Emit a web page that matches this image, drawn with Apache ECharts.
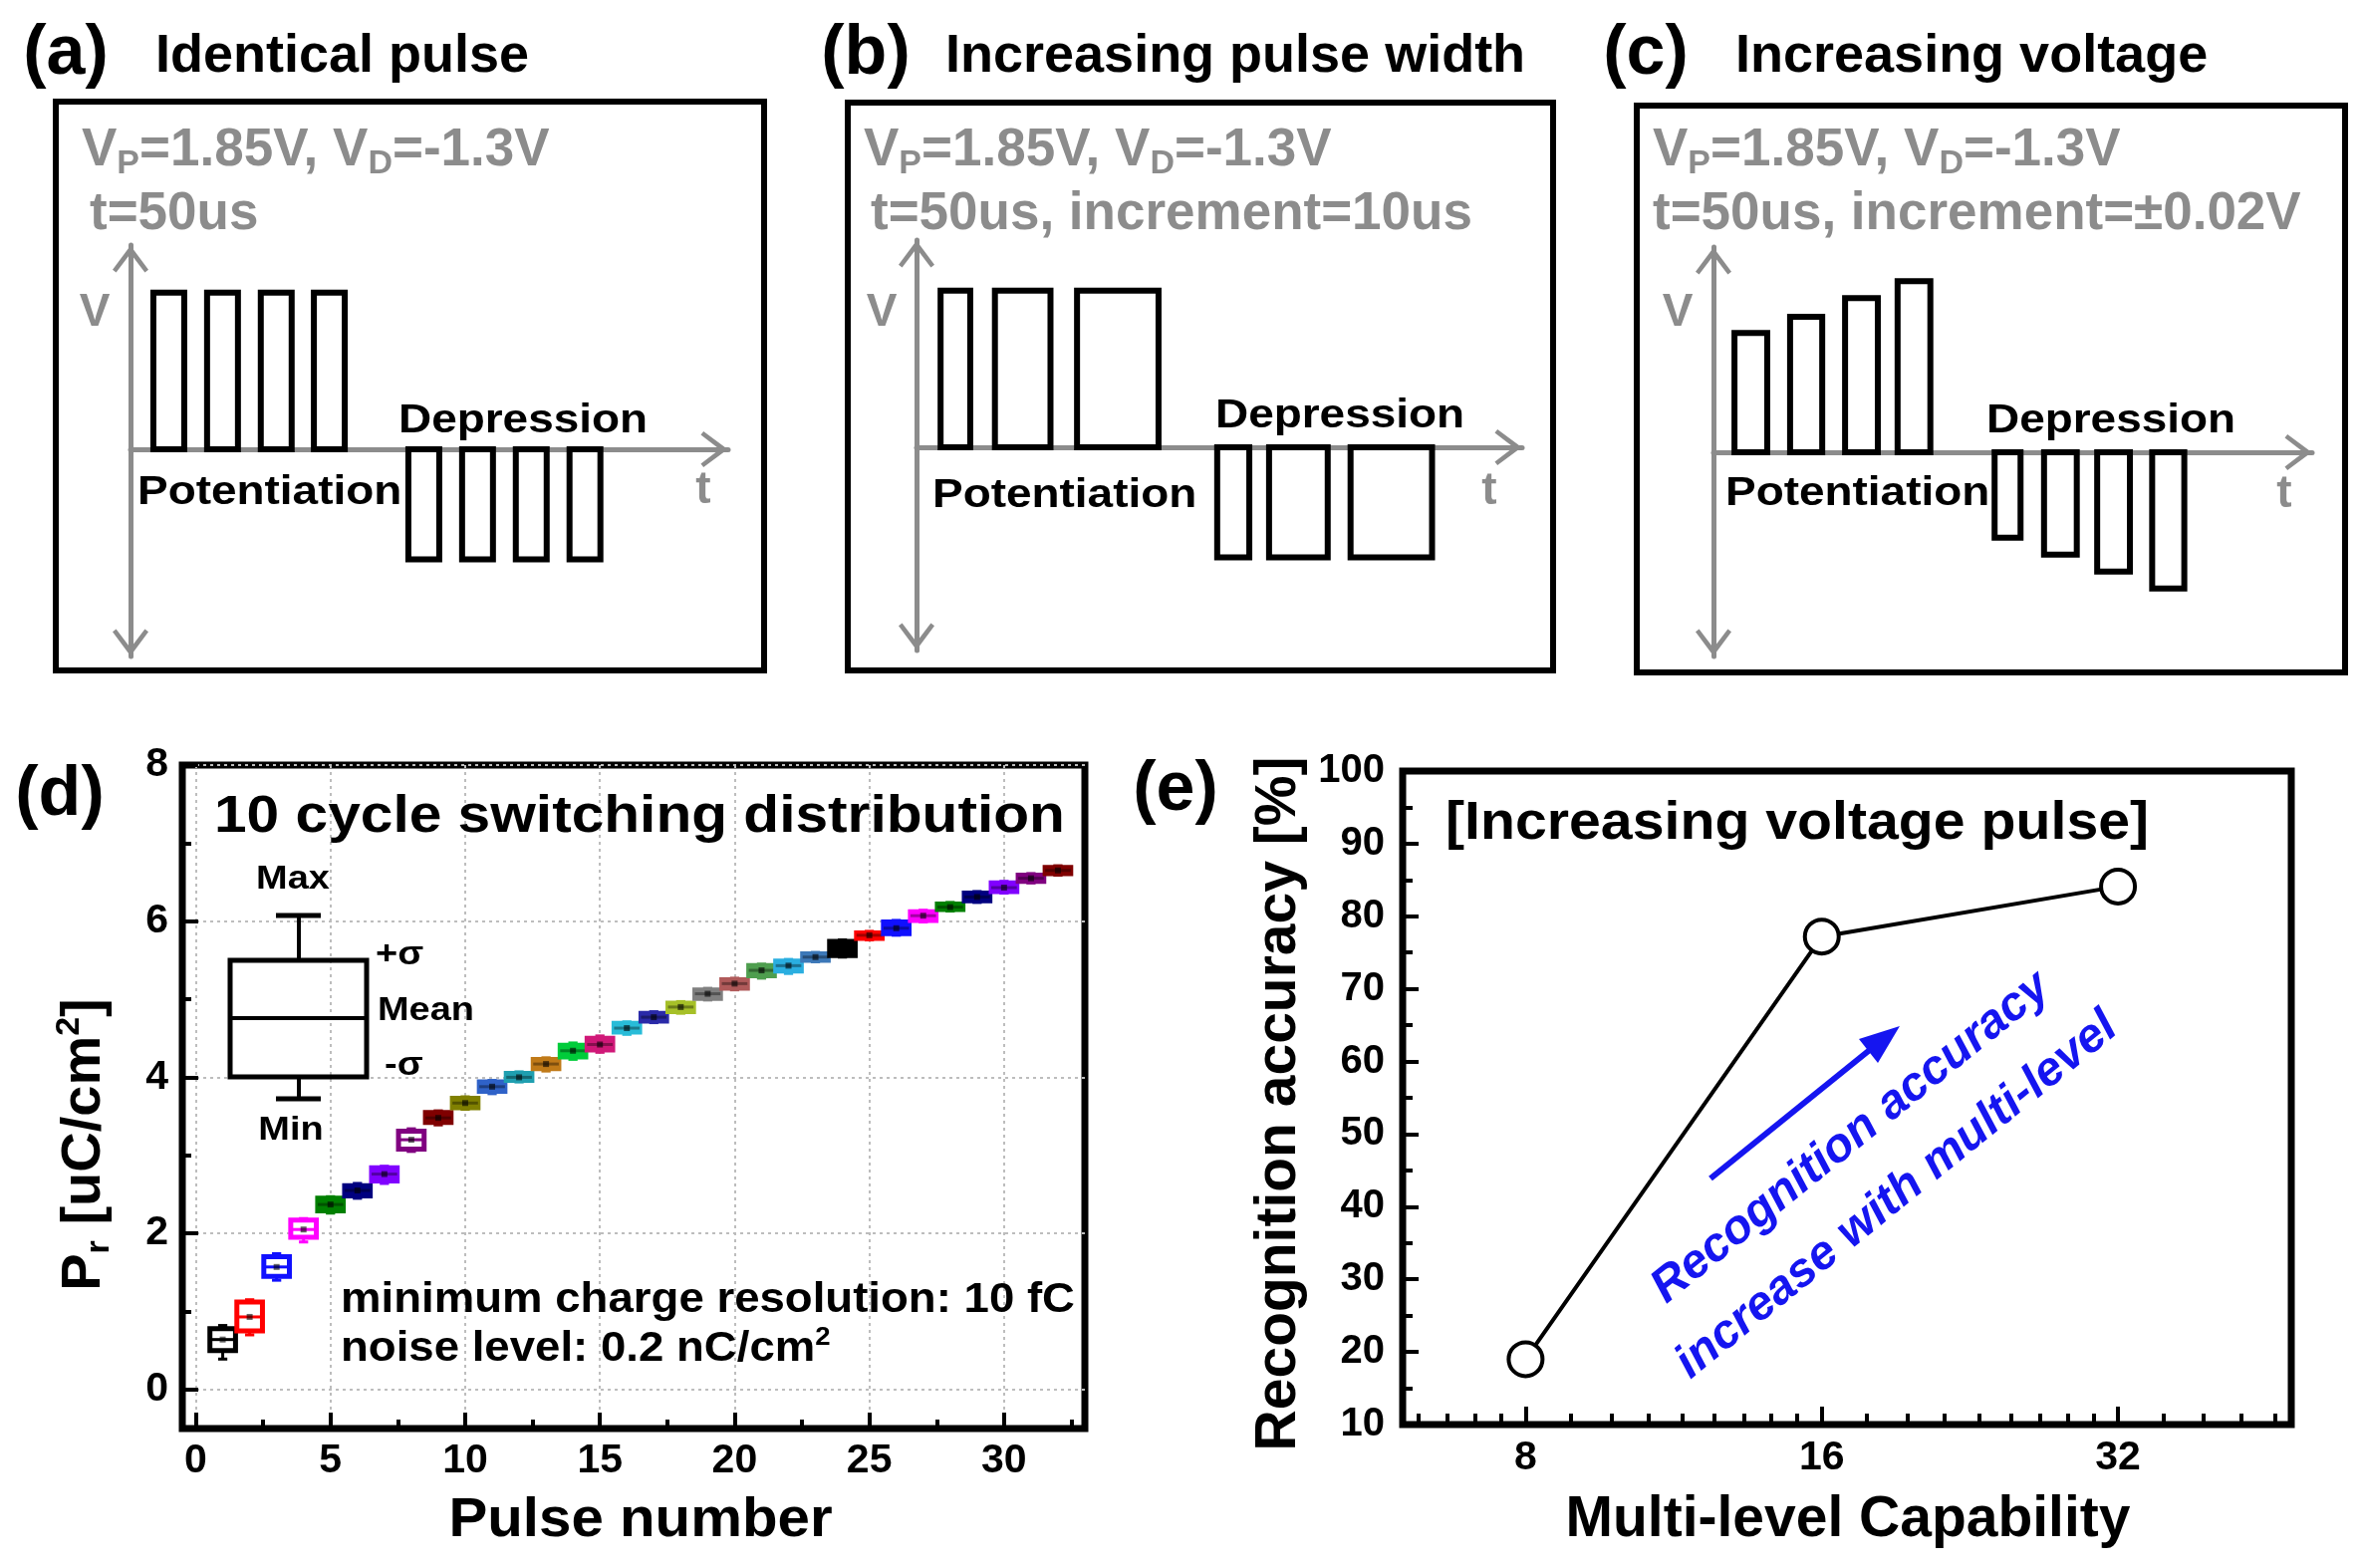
<!DOCTYPE html>
<html><head><meta charset="utf-8">
<script src="https://cdn.jsdelivr.net/npm/echarts@6.0.0/dist/echarts.min.js"></script>
<style>html,body{margin:0;padding:0;background:#fff}#c{width:2372px;height:1574px}</style>
</head><body><div id="c"></div>
<script>
// ---------------- data ----------------
// (a)-(c) pulse schematics: start / width (schematic µs units), amplitude (V)
const aPosStart = [37, 124, 211, 297];
const aPosWidth = [50, 50, 50, 50];
const aPosAmp   = [1.85, 1.85, 1.85, 1.85];
const aNegStart = [450, 537, 624, 711];
const aNegWidth = [50, 50, 50, 50];
const aNegAmp   = [-1.3, -1.3, -1.3, -1.3];

const bPosStart = [39, 127, 260];
const bPosWidth = [48, 90, 132];
const bPosAmp   = [1.85, 1.85, 1.85];
const bNegStart = [487, 571, 703];
const bNegWidth = [52, 95, 132];
const bNegAmp   = [-1.3, -1.3, -1.3];

const cPosStart = [34, 124, 213, 298];
const cPosWidth = [53, 52, 53, 53];
const cPosAmp   = [1.41, 1.60, 1.82, 2.02];
const cNegStart = [455, 535, 621, 710];
const cNegWidth = [42, 53, 53, 52];
const cNegAmp   = [-1.01, -1.21, -1.41, -1.61];

// (d) 10 cycle switching distribution
const pulseNumber = [1,2,3,4,5,6,7,8,9,10,11,12,13,14,15,16,17,18,19,20,21,22,23,24,25,26,27,28,29,30,31,32];
const prMean = [0.64,0.93,1.57,2.05,2.37,2.55,2.76,3.20,3.48,3.67,3.88,4.00,4.17,4.34,4.42,4.63,4.77,4.90,5.07,5.20,5.37,5.43,5.54,5.65,5.82,5.91,6.07,6.18,6.31,6.43,6.55,6.65];
const prLow  = [0.50,0.75,1.45,1.95,2.29,2.48,2.67,3.08,3.42,3.61,3.82,3.96,4.11,4.26,4.35,4.58,4.72,4.84,5.01,5.14,5.30,5.36,5.50,5.56,5.78,5.84,6.01,6.15,6.26,6.38,6.51,6.61];
const prHigh = [0.78,1.12,1.70,2.17,2.45,2.61,2.84,3.31,3.55,3.73,3.94,4.05,4.23,4.41,4.50,4.69,4.82,4.95,5.12,5.25,5.43,5.49,5.58,5.74,5.85,5.99,6.12,6.22,6.36,6.49,6.59,6.69];
const prMin  = [0.39,0.70,1.40,1.89,2.26,2.45,2.64,3.05,3.39,3.59,3.79,3.94,4.08,4.23,4.32,4.55,4.70,4.82,4.99,5.12,5.27,5.33,5.48,5.54,5.76,5.82,5.99,6.13,6.24,6.36,6.49,6.59];
const prMax  = [0.82,1.15,1.74,2.19,2.47,2.64,2.86,3.34,3.57,3.75,3.96,4.07,4.25,4.44,4.53,4.71,4.84,4.97,5.14,5.27,5.45,5.51,5.60,5.76,5.87,6.01,6.14,6.24,6.38,6.51,6.61,6.71];
const boxColors = ['#000000','#ff0000','#1010ff','#ff00ff','#008000','#000080','#8000ff','#800080','#800000','#808000',
  '#2f62c8','#1f9fb0','#c07a18','#00cc3a','#d01878','#28bcd8','#2a2aa8','#a6c028','#808080','#b05a5a',
  '#4e9e4e','#2aaee0','#3c78b8','#000000','#ff0000','#1010ff','#ff00ff','#008000','#000080','#8000ff','#800080','#800000'];
const dXLabels = [0, 5, 10, 15, 20, 25, 30];
const dXMinor  = [2.5, 7.5, 12.5, 17.5, 22.5, 27.5, 32.5];
const dYLabels = [0, 2, 4, 6, 8];
const dYMinor  = [1, 3, 5, 7];

// (e) recognition accuracy
const levels = [8, 16, 32];
const levelLabels = ['8', '16', '32'];
const accuracy = [19.0, 77.2, 84.1];
const eYMinor = [15, 25, 35, 45, 55, 65, 75, 85, 95];

// ---------------- helpers ----------------
const FONT = "'Liberation Sans', Arial, Helvetica, sans-serif";
const GRAY = '#8c8c8c';
const chevron = 'path://M20,0 L40,27 L36,30 L20,9 L4,30 L0,27 Z';

function rows(s, w, a) { return s.map((v, i) => [v, w[i], a[i]]); }

function T(x, y, text, size, o) {
  o = o || {};
  return {
    type: 'text', x: x, y: y, scaleX: o.sx || 1, rotation: o.rot || 0, z: 50,
    style: {
      text: text, fill: o.color || '#000', fontSize: size, fontWeight: o.weight || 'bold',
      fontStyle: o.italic ? 'italic' : 'normal', fontFamily: FONT,
      align: o.align || 'left', textAlign: o.align || 'left',
      verticalAlign: 'middle', textVerticalAlign: 'middle', rich: o.rich
    }
  };
}
function richSet(size, color, subSize) {
  const base = { fontSize: size, fontWeight: 'bold', fontFamily: FONT, fill: color, color: color };
  return {
    m: Object.assign({}, base, { lineHeight: Math.round(size * 1.15), verticalAlign: 'middle' }),
    s: Object.assign({}, base, { fontSize: subSize, lineHeight: Math.round(size * 0.5), verticalAlign: 'bottom' }),
    u: Object.assign({}, base, { fontSize: subSize, lineHeight: Math.round(size * 0.55), verticalAlign: 'top' })
  };
}

function renderPulse(params, api) {
  const s = api.value(0), w = api.value(1), a = api.value(2);
  const p0 = api.coord([s, 0]), p1 = api.coord([s + w, a]);
  return {
    type: 'rect',
    shape: { x: Math.min(p0[0], p1[0]), y: Math.min(p0[1], p1[1]), width: Math.abs(p1[0] - p0[0]), height: Math.abs(p1[1] - p0[1]) },
    style: { fill: 'none', stroke: '#000', lineWidth: 6 }
  };
}

function renderBox(params, api) {
  const x = api.value(0), mean = api.value(1), lo = api.value(2), hi = api.value(3), mn = api.value(4), mx = api.value(5);
  const c = boxColors[params.dataIndex];
  const w = api.size([0.95, 0])[0];
  const pLo = api.coord([x, lo]), pHi = api.coord([x, hi]), pM = api.coord([x, mean]);
  const pMin = api.coord([x, mn]), pMax = api.coord([x, mx]);
  const cx = pLo[0];
  const h = pLo[1] - pHi[1];
  const hollow = h >= 17;
  return {
    type: 'group', children: [
      { type: 'line', shape: { x1: cx, y1: pHi[1], x2: cx, y2: pMax[1] }, style: { stroke: c, lineWidth: 3 } },
      { type: 'line', shape: { x1: cx, y1: pLo[1], x2: cx, y2: pMin[1] }, style: { stroke: c, lineWidth: 3 } },
      { type: 'line', shape: { x1: cx - w * 0.18, y1: pMax[1], x2: cx + w * 0.18, y2: pMax[1] }, style: { stroke: c, lineWidth: 3 } },
      { type: 'line', shape: { x1: cx - w * 0.18, y1: pMin[1], x2: cx + w * 0.18, y2: pMin[1] }, style: { stroke: c, lineWidth: 3 } },
      { type: 'rect', shape: { x: cx - w / 2, y: pHi[1], width: w, height: h },
        style: { fill: hollow ? '#fff' : c, opacity: 1, stroke: c, lineWidth: 5 } },
      { type: 'line', shape: { x1: cx - w / 2, y1: pM[1], x2: cx + w / 2, y2: pM[1] },
        style: { stroke: hollow ? c : 'rgba(0,0,0,0.35)', lineWidth: 3 } },
      { type: 'rect', shape: { x: cx - 3, y: pM[1] - 3, width: 6, height: 6 }, style: { fill: 'rgba(0,0,0,0.6)' } }
    ]
  };
}

// schematic panel axes
function schemX(grid, max) {
  return { gridIndex: grid, type: 'value', min: 0, max: max,
    axisLine: { show: true, onZero: true, symbol: ['none', chevron], symbolSize: [36, 28], symbolOffset: [0, -14],
      lineStyle: { color: GRAY, width: 5 } },
    axisTick: { show: false }, axisLabel: { show: false }, splitLine: { show: false } };
}
function schemY(grid, min, max) {
  return { gridIndex: grid, type: 'value', min: min, max: max,
    axisLine: { show: true, onZero: true, symbol: [chevron, chevron], symbolSize: [36, 28], symbolOffset: [14, -14],
      lineStyle: { color: GRAY, width: 5 } },
    axisTick: { show: false }, axisLabel: { show: false }, splitLine: { show: false } };
}
const tickLbl = { fontSize: 41, fontWeight: 'bold', fontFamily: FONT, color: '#000' };
const dotted = { show: true, lineStyle: { type: [3, 4], color: '#bdbdbd', width: 2 } };

// (e) minor ticks: linear steps between powers of 2, placed on the log2 axis
const eMinor = [];
[[4, 8], [8, 16], [16, 32], [32, 64]].forEach(function (p) {
  for (let k = 1; k < 9; k++) { const v = p[0] + (p[1] - p[0]) * k / 9; if (v > 6 && v < 48) eMinor.push(Math.log2(v)); }
});
const eMajor = levels.map(Math.log2);

const option = {
  animation: false,
  backgroundColor: '#fff',
  grid: [
    { left: 131, top: 246, width: 600, height: 413, outerBoundsMode: 'none' },
    { left: 920, top: 241, width: 608, height: 412, outerBoundsMode: 'none' },
    { left: 1720, top: 248, width: 601, height: 411, outerBoundsMode: 'none' },
    { left: 183, top: 768, width: 906, height: 666, show: true, borderColor: '#000', borderWidth: 7, outerBoundsMode: 'none' },
    { left: 1408, top: 774, width: 892, height: 656, show: true, borderColor: '#000', borderWidth: 7, outerBoundsMode: 'none' }
  ],
  xAxis: [
    schemX(0, 968), schemX(1, 981), schemX(2, 969),
    { gridIndex: 3, type: 'value', min: -0.5, max: 33, position: 'bottom',
      axisLine: { show: false, onZero: false },
      axisTick: { show: true, inside: true, length: 16, lineStyle: { color: '#000', width: 4 }, customValues: dXLabels },
      axisLabel: Object.assign({ margin: 12, customValues: dXLabels }, tickLbl),
      splitLine: dotted },
    { gridIndex: 3, type: 'value', min: -0.5, max: 33, position: 'bottom',
      axisLine: { show: false, onZero: false },
      axisTick: { show: true, inside: true, length: 9, lineStyle: { color: '#000', width: 4 }, customValues: dXMinor },
      axisLabel: { show: false }, splitLine: { show: false } },
    { gridIndex: 4, type: 'value', min: Math.log2(6), max: Math.log2(48), position: 'bottom',
      axisLine: { show: false, onZero: false },
      axisTick: { show: true, inside: true, length: 18, lineStyle: { color: '#000', width: 4 }, customValues: eMajor },
      axisLabel: Object.assign({ margin: 13, customValues: eMajor,
        formatter: function (v) { const i = eMajor.findIndex(function (m) { return Math.abs(m - v) < 1e-6; }); return i >= 0 ? levelLabels[i] : ''; } }, tickLbl),
      splitLine: { show: false } },
    { gridIndex: 4, type: 'value', min: Math.log2(6), max: Math.log2(48), position: 'bottom',
      axisLine: { show: false, onZero: false },
      axisTick: { show: true, inside: true, length: 11, lineStyle: { color: '#000', width: 4 }, customValues: eMinor },
      axisLabel: { show: false }, splitLine: { show: false } }
  ],
  yAxis: [
    schemY(0, -2.447, 2.412), schemY(1, -2.4, 2.447), schemY(2, -2.412, 2.424),
    { gridIndex: 3, type: 'value', min: -0.5, max: 8, position: 'left',
      axisLine: { show: false, onZero: false },
      axisTick: { show: true, inside: true, length: 16, lineStyle: { color: '#000', width: 4 }, customValues: dYLabels },
      axisLabel: Object.assign({ margin: 14, customValues: dYLabels }, tickLbl),
      splitLine: dotted },
    { gridIndex: 3, type: 'value', min: -0.5, max: 8, position: 'left',
      axisLine: { show: false, onZero: false },
      axisTick: { show: true, inside: true, length: 9, lineStyle: { color: '#000', width: 4 }, customValues: dYMinor },
      axisLabel: { show: false }, splitLine: { show: false } },
    { gridIndex: 4, type: 'value', min: 10, max: 100, interval: 10, position: 'left',
      axisLine: { show: false, onZero: false },
      axisTick: { show: true, inside: true, length: 16, lineStyle: { color: '#000', width: 4 } },
      axisLabel: Object.assign({ margin: 18 }, tickLbl, { fontSize: 40 }),
      splitLine: { show: false } },
    { gridIndex: 4, type: 'value', min: 10, max: 100, position: 'left',
      axisLine: { show: false, onZero: false },
      axisTick: { show: true, inside: true, length: 10, lineStyle: { color: '#000', width: 4 }, customValues: eYMinor },
      axisLabel: { show: false }, splitLine: { show: false } }
  ],
  series: [
    { type: 'custom', xAxisIndex: 0, yAxisIndex: 0, renderItem: renderPulse, data: rows(aPosStart, aPosWidth, aPosAmp).concat(rows(aNegStart, aNegWidth, aNegAmp)), z: 5 },
    { type: 'custom', xAxisIndex: 1, yAxisIndex: 1, renderItem: renderPulse, data: rows(bPosStart, bPosWidth, bPosAmp).concat(rows(bNegStart, bNegWidth, bNegAmp)), z: 5 },
    { type: 'custom', xAxisIndex: 2, yAxisIndex: 2, renderItem: renderPulse, data: rows(cPosStart, cPosWidth, cPosAmp).concat(rows(cNegStart, cNegWidth, cNegAmp)), z: 5 },
    { type: 'custom', xAxisIndex: 3, yAxisIndex: 3, renderItem: renderBox, z: 5,
      data: pulseNumber.map(function (n, i) { return [n, prMean[i], prLow[i], prHigh[i], prMin[i], prMax[i]]; }) },
    { type: 'line', xAxisIndex: 5, yAxisIndex: 5, z: 5,
      data: levels.map(function (l, i) { return [Math.log2(l), accuracy[i]]; }),
      symbol: 'circle', symbolSize: 34,
      itemStyle: { color: '#fff', borderColor: '#000', borderWidth: 4 },
      lineStyle: { color: '#000', width: 4 } }
  ],
  graphic: [
    // panel frames
    { type: 'rect', shape: { x: 56, y: 102, width: 711, height: 571 }, style: { fill: 'none', stroke: '#000', lineWidth: 6 } },
    { type: 'rect', shape: { x: 851, y: 103, width: 708, height: 570 }, style: { fill: 'none', stroke: '#000', lineWidth: 6 } },
    { type: 'rect', shape: { x: 1643, y: 106, width: 711, height: 569 }, style: { fill: 'none', stroke: '#000', lineWidth: 6 } },
    // headers
    T(66, 55, '(a)', 70, { align: 'center' }), T(156, 57, 'Identical pulse', 54),
    T(869, 55, '(b)', 70, { align: 'center' }), T(949, 57, 'Increasing pulse width', 54),
    T(1652, 55, '(c)', 70, { align: 'center' }), T(1742, 57, 'Increasing voltage', 54),
    // gray condition texts
    T(82, 151, '{m|V}{s|P}{m|=1.85V, V}{s|D}{m|=-1.3V}', 53, { rich: richSet(53, GRAY, 34) }),
    T(90, 215, 't=50us', 53, { color: GRAY }),
    T(867, 151, '{m|V}{s|P}{m|=1.85V, V}{s|D}{m|=-1.3V}', 53, { rich: richSet(53, GRAY, 34) }),
    T(874, 215, 't=50us, increment=10us', 53, { color: GRAY }),
    T(1659, 151, '{m|V}{s|P}{m|=1.85V, V}{s|D}{m|=-1.3V}', 53, { rich: richSet(53, GRAY, 34) }),
    T(1659, 215, 't=50us, increment=\u00b10.02V', 53, { color: GRAY }),
    // V / t labels
    T(95, 314, 'V', 46, { color: GRAY, align: 'center' }), T(706, 492, 't', 46, { color: GRAY, align: 'center' }),
    T(885, 314, 'V', 46, { color: GRAY, align: 'center' }), T(1495, 493, 't', 46, { color: GRAY, align: 'center' }),
    T(1684, 314, 'V', 46, { color: GRAY, align: 'center' }), T(2293, 496, 't', 46, { color: GRAY, align: 'center' }),
    // Depression / Potentiation
    T(400, 423, 'Depression', 41, { sx: 1.12 }), T(138, 495, 'Potentiation', 41, { sx: 1.12 }),
    T(1220, 418, 'Depression', 41, { sx: 1.12 }), T(936, 498, 'Potentiation', 41, { sx: 1.12 }),
    T(1994, 423, 'Depression', 41, { sx: 1.12 }), T(1732, 496, 'Potentiation', 41, { sx: 1.12 }),
    // panel (d)
    T(60, 799, '(d)', 70, { align: 'center' }),
    T(215, 821, '10 cycle switching distribution', 51, { sx: 1.15 }),
    { type: 'rect', z: 40, shape: { x: 231, y: 964, width: 137, height: 117 }, style: { fill: 'none', stroke: '#000', lineWidth: 5 } },
    { type: 'line', z: 40, shape: { x1: 231, y1: 1022, x2: 368, y2: 1022 }, style: { stroke: '#000', lineWidth: 4 } },
    { type: 'line', z: 40, shape: { x1: 300, y1: 964, x2: 300, y2: 919 }, style: { stroke: '#000', lineWidth: 4 } },
    { type: 'line', z: 40, shape: { x1: 277, y1: 919, x2: 322, y2: 919 }, style: { stroke: '#000', lineWidth: 5 } },
    { type: 'line', z: 40, shape: { x1: 300, y1: 1081, x2: 300, y2: 1103 }, style: { stroke: '#000', lineWidth: 4 } },
    { type: 'line', z: 40, shape: { x1: 277, y1: 1103, x2: 322, y2: 1103 }, style: { stroke: '#000', lineWidth: 5 } },
    T(294, 883, 'Max', 33, { align: 'center', sx: 1.15 }),
    T(377, 959, '+\u03c3', 33, { sx: 1.15 }),
    T(379, 1015, 'Mean', 33, { sx: 1.15 }),
    T(386, 1070, '-\u03c3', 33, { sx: 1.15 }),
    T(292, 1135, 'Min', 33, { align: 'center', sx: 1.15 }),
    T(342, 1305, 'minimum charge resolution: 10 fC', 43, { sx: 1.06 }),
    T(342, 1354, '{m|noise level: 0.2 nC/cm}{u|2}', 43, { sx: 1.06, rich: richSet(43, '#000', 26) }),
    T(643, 1527, 'Pulse number', 56, { align: 'center', sx: 1.04 }),
    T(85, 1149, '{m|P}{s|r}{m| [uC/cm}{u|2}{m|]}', 56, { align: 'center', rot: Math.PI / 2, rich: richSet(56, '#000', 34) }),
    // panel (e)
    T(1180, 794, '(e)', 70, { align: 'center' }),
    T(1451, 827, '[Increasing voltage pulse]', 54, { sx: 1.06 }),
    T(1284, 1108, 'Recognition accuracy [%]', 57, { align: 'center', rot: Math.PI / 2 }),
    T(1855, 1526, 'Multi-level Capability', 57, { align: 'center' }),
    { type: 'line', z: 40, shape: { x1: 1717, y1: 1183, x2: 1878, y2: 1053 }, style: { stroke: '#1515f0', lineWidth: 6 } },
    { type: 'polygon', z: 40, shape: { points: [[1907, 1030], [1885, 1067], [1866, 1043]] }, style: { fill: '#1515f0' } },
    T(1858, 1142, 'Recognition accuracy', 48, { align: 'center', rot: 39 * Math.PI / 180, italic: true, color: '#1515f0' }),
    T(1904, 1200, 'increase with multi-level', 48, { align: 'center', rot: 39 * Math.PI / 180, italic: true, color: '#1515f0' })
  ]
};

const chart = echarts.init(document.getElementById('c'), null, { width: 2372, height: 1574 });
chart.setOption(option);
</script>
</body></html>
